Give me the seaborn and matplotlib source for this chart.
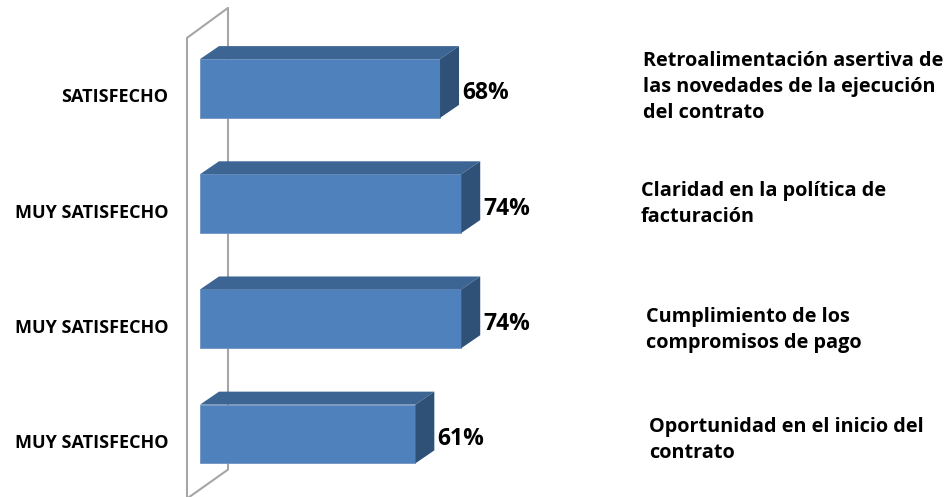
import matplotlib
matplotlib.use("Agg")
import matplotlib.pyplot as plt
from matplotlib.patches import Polygon
from matplotlib.transforms import IdentityTransform
import seaborn as sns
import pandas as pd

# datos del gráfico
niveles = ["SATISFECHO", "MUY SATISFECHO", "MUY SATISFECHO", "MUY SATISFECHO"]
porcentajes = [68, 74, 74, 61]
criterios = [
    "Retroalimentación asertiva de\nlas novedades de la ejecución\ndel contrato",
    "Claridad en la política de\nfacturación",
    "Cumplimiento de los\ncompromisos de pago",
    "Oportunidad en el inicio del\ncontrato",
]

sns.set_style("white")
plt.rcParams["font.family"] = ["Open Sans", "DejaVu Sans"]

W, H, DPI = 947, 497, 100
fig = plt.figure(figsize=(W / DPI, H / DPI), dpi=DPI)
ax = fig.add_axes([200 / W, 1 - 491.6 / H, 353 / W, 460.7 / H])

df = pd.DataFrame({"pos": [str(i) for i in range(len(porcentajes))], "valor": porcentajes})
sns.barplot(data=df, x="valor", y="pos", orient="h", color="#4F81BD",
            saturation=1, width=0.51, ax=ax)
ax.set_xlim(0, 100)
ax.set_ylim(3.5, -0.5)
ax.axis("off")

# profundidad 3D (pixeles)
DX, DY = 19, 13
ARRIBA = "#3D6594"
LADO = "#2F5177"

fig.canvas.draw()
for i, bar in enumerate(ax.patches):
    bar.set_edgecolor("#6E93C6")
    bar.set_linewidth(0.6)
    (x0, y0), (x1, y1) = ax.transData.transform(
        [(bar.get_x(), bar.get_y() + bar.get_height()), (bar.get_x() + bar.get_width(), bar.get_y())])
    # y0 = borde inferior, y1 = borde superior (display)
    top = Polygon([(x0, y1), (x1, y1), (x1 + DX, y1 + DY), (x0 + DX, y1 + DY)],
                  closed=True, facecolor=ARRIBA, edgecolor="none",
                  transform=IdentityTransform(), zorder=1)
    side = Polygon([(x1, y0), (x1, y1), (x1 + DX, y1 + DY), (x1 + DX, y0 + DY)],
                   closed=True, facecolor=LADO, edgecolor="none",
                   transform=IdentityTransform(), zorder=1)
    fig.add_artist(top)
    fig.add_artist(side)
    # etiqueta de porcentaje
    fig.text((x1 + DX + 3) / W, ((y0 + y1) / 2 - 5) / H, f"{porcentajes[i]}%",
             ha="left", va="center", fontsize=16.5, fontweight="bold", color="black")

# pared lateral (gris)
xw, _ = ax.transData.transform((0, 0))
_, ytop = ax.transData.transform((0, -0.5))
_, ybot = ax.transData.transform((0, 3.5))
pared_x = [xw - 13, xw - 13, xw + 28, xw + 28, xw - 13]
pared_y = [ybot - 7, ytop - 7, ytop + 23, ybot + 22, ybot - 7]
fig.add_artist(plt.Line2D(pared_x, pared_y, color="#A6A6A6", lw=1.5,
                          transform=IdentityTransform(), zorder=0))

# etiquetas izquierda
for i, nivel in enumerate(niveles):
    _, yc = ax.transData.transform((0, i))
    fig.text((xw - 32) / W, (yc - 9) / H, nivel, ha="right", va="center",
             fontsize=13, fontweight="bold", color="black")

# textos a la derecha
der_x = [643, 641, 646, 649]
der_dy = [1, 0, -11, -6]
for i, texto in enumerate(criterios):
    _, yc = ax.transData.transform((0, i))
    fig.text(der_x[i] / W, (yc + der_dy[i]) / H, texto, ha="left", va="center",
             fontsize=14.3, fontweight="bold", color="black", linespacing=1.4)

fig.savefig("out.png", dpi=DPI)
